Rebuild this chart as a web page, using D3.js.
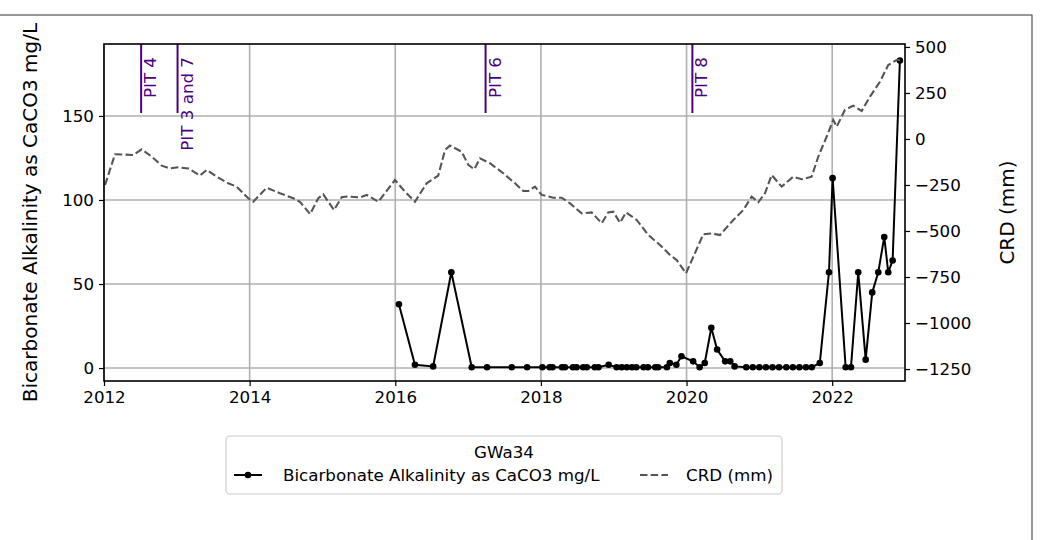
<!DOCTYPE html>
<html>
<head>
<meta charset="utf-8">
<script src="https://cdn.jsdelivr.net/npm/d3@7"></script>
<style>
  html, body { margin: 0; padding: 0; background: #fff; }
  svg { display: block; font-family: "DejaVu Sans", sans-serif; }
</style>
</head>
<body>
<svg id="chart" width="1049" height="540"></svg>
<script>
// ---- data (decimal years) ----
const alkDates = [2016.05, 2016.27, 2016.52, 2016.77, 2017.05, 2017.26, 2017.60, 2017.81,
  2018.02, 2018.12, 2018.16, 2018.29, 2018.33, 2018.44, 2018.49, 2018.58, 2018.63, 2018.74, 2018.79, 2018.93,
  2019.04, 2019.11, 2019.18, 2019.25, 2019.31, 2019.41, 2019.47, 2019.57, 2019.61, 2019.73, 2019.77, 2019.86, 2019.93,
  2020.09, 2020.18, 2020.25, 2020.34, 2020.42, 2020.53, 2020.60, 2020.66, 2020.82, 2020.91,
  2021.00, 2021.09, 2021.18, 2021.27, 2021.37, 2021.46, 2021.55, 2021.64, 2021.72, 2021.83, 2021.956,
  2022.006, 2022.185, 2022.258, 2022.358, 2022.46, 2022.55, 2022.633, 2022.715, 2022.77, 2022.83, 2022.93];
const alkValues = [38, 2, 1, 57, 0.5, 0.5, 0.5, 0.5,
  0.5, 0.5, 0.5, 0.5, 0.5, 0.5, 0.5, 0.5, 0.5, 0.5, 0.5, 2,
  0.5, 0.5, 0.5, 0.5, 0.5, 0.5, 0.5, 0.5, 0.5, 0.5, 3, 2, 7,
  4, 0.5, 3, 24, 11, 4, 4, 1, 0.5, 0.5,
  0.5, 0.5, 0.5, 0.5, 0.5, 0.5, 0.5, 0.5, 0.5, 3, 57,
  113, 0.5, 0.5, 57, 5, 45, 57, 78, 57, 64, 183];

const crdDates = [2012.014, 2012.151, 2012.40, 2012.518, 2012.655, 2012.792, 2012.906, 2013.02, 2013.158,
  2013.318, 2013.41, 2013.548, 2013.707, 2013.822, 2013.98, 2014.05, 2014.234, 2014.417, 2014.60, 2014.69,
  2014.83, 2014.943, 2015.011, 2015.158, 2015.264, 2015.333, 2015.516, 2015.608, 2015.767, 2015.996,
  2016.133, 2016.27, 2016.43, 2016.59, 2016.683, 2016.751, 2016.912, 2017.003, 2017.085, 2017.163,
  2017.30, 2017.483, 2017.644, 2017.758, 2017.827, 2017.919, 2018.011, 2018.17, 2018.285, 2018.40,
  2018.56, 2018.697, 2018.835, 2018.925, 2018.994, 2019.086, 2019.168, 2019.315, 2019.475, 2019.635,
  2019.773, 2019.865, 2019.992, 2020.23, 2020.345, 2020.459, 2020.642, 2020.78, 2020.894, 2020.985,
  2021.077, 2021.169, 2021.306, 2021.466, 2021.581, 2021.718, 2021.809, 2021.924, 2022.015, 2022.062,
  2022.176, 2022.29, 2022.405, 2022.519, 2022.656, 2022.77, 2022.886, 2022.93];
const crdValues = [-250, -83, -87, -56, -96, -145, -160, -154, -160,
  -199, -168, -205, -241, -259, -322, -341, -265, -295, -322, -341,
  -408, -322, -301, -386, -317, -313, -317, -304, -341, -223,
  -286, -341, -241, -199, -60, -36, -69, -141, -165, -105,
  -132, -186, -241, -283, -283, -259, -304, -319, -319, -350,
  -404, -399, -458, -399, -395, -455, -399, -440, -522, -576,
  -630, -658, -730, -518, -513, -522, -440, -386, -313, -344,
  -295, -196, -259, -205, -219, -205, -96, 12, 103, 67,
  158, 181, 152, 230, 311, 402, 429, 429];

const pitDates = [2012.51, 2013.01, 2017.24, 2020.08];
const pitLabels = ["PIT 4", "PIT 3 and 7", "PIT 6", "PIT 8"];

const xTicks = [2012, 2014, 2016, 2018, 2020, 2022];
const leftTicks = [0, 50, 100, 150];
const rightTicks = [-1250, -1000, -750, -500, -250, 0, 250, 500];

const legendTitle = "GWa34";
const alkName = "Bicarbonate Alkalinity as CaCO3 mg/L";
const crdName = "CRD (mm)";

// ---- layout ----
const svg = d3.select("#chart");
const L = 104, T = 44, W = 801, H = 337;
const FS = 16.7;

// figure frame
svg.append("rect").attr("x", -2).attr("y", 15).attr("width", 1034).attr("height", 530)
  .attr("fill", "none").attr("stroke", "#333").attr("stroke-width", 1);

const x = d3.scaleLinear().domain([2012, 2023]).range([L, L + W]);
const yL = d3.scaleLinear().domain([-7.7, 192.8]).range([T + H, T]);
const yR = d3.scaleLinear().domain([-1315, 516]).range([T + H, T]);

// grid
const g = svg.append("g");
g.selectAll(".vg").data(xTicks).join("line")
  .attr("x1", d => x(d)).attr("x2", d => x(d)).attr("y1", T).attr("y2", T + H)
  .attr("stroke", "#b0b0b0").attr("stroke-width", 1.6);
g.selectAll(".hg").data(leftTicks).join("line")
  .attr("x1", L).attr("x2", L + W).attr("y1", d => yL(d)).attr("y2", d => yL(d))
  .attr("stroke", "#b0b0b0").attr("stroke-width", 1.6);

// clip
svg.append("clipPath").attr("id", "clip").append("rect")
  .attr("x", L).attr("y", T).attr("width", W).attr("height", H);

// alkalinity
const alk = alkDates.map((d, i) => ({ d, v: alkValues[i] }));
const pl = svg.append("g").attr("clip-path", "url(#clip)");
pl.append("path").datum(alk)
  .attr("d", d3.line().x(p => x(p.d)).y(p => yL(p.v)))
  .attr("fill", "none").attr("stroke", "#000").attr("stroke-width", 2);
pl.selectAll(".dot").data(alk).join("circle")
  .attr("cx", p => x(p.d)).attr("cy", p => yL(p.v)).attr("r", 3.3).attr("fill", "#000");

// CRD
const crd = crdDates.map((d, i) => ({ d, v: crdValues[i] }));
pl.append("path").datum(crd)
  .attr("d", d3.line().x(p => x(p.d)).y(p => yR(p.v)))
  .attr("fill", "none").attr("stroke", "#555").attr("stroke-width", 2.1)
  .attr("stroke-dasharray", "7.5,3.2");

// PIT lines
const pits = pitDates.map((d, i) => ({ d, t: pitLabels[i] }));
svg.selectAll(".pit").data(pits).join("line")
  .attr("x1", p => x(p.d)).attr("x2", p => x(p.d)).attr("y1", T).attr("y2", 113)
  .attr("stroke", "#4b0082").attr("stroke-width", 2);
svg.selectAll(".pitt").data(pits).join("text")
  .attr("transform", p => `translate(${x(p.d) + 15},57) rotate(-90)`)
  .attr("text-anchor", "end").attr("font-size", FS).attr("fill", "#4b0082")
  .text(p => p.t);

// axes
const ax = svg.append("g").attr("transform", `translate(0,${T + H})`)
  .call(d3.axisBottom(x).tickValues(xTicks).tickFormat(d3.format("d")).tickSize(5).tickPadding(5));
const ayl = svg.append("g").attr("transform", `translate(${L},0)`)
  .call(d3.axisLeft(yL).tickValues(leftTicks).tickFormat(d3.format("d")).tickSize(5).tickPadding(5));
const ayr = svg.append("g").attr("transform", `translate(${L + W},0)`)
  .call(d3.axisRight(yR).tickValues(rightTicks).tickFormat(d3.format("d")).tickSize(5).tickPadding(5));
[ax, ayl, ayr].forEach(a => {
  a.select(".domain").remove();
  a.selectAll(".tick line").attr("stroke", "#000").attr("stroke-width", 1.2);
  a.selectAll(".tick text").attr("font-size", FS).attr("fill", "#000")
    .attr("font-family", "DejaVu Sans");
});

// spines
svg.append("rect").attr("x", L).attr("y", T).attr("width", W).attr("height", H)
  .attr("fill", "none").attr("stroke", "#000").attr("stroke-width", 1.6);

// axis labels
svg.append("text").attr("transform", `translate(37,${T + H / 2}) rotate(-90)`)
  .attr("text-anchor", "middle").attr("font-size", 20).text(alkName);
svg.append("text").attr("transform", `translate(1014,${T + H / 2}) rotate(-90)`)
  .attr("text-anchor", "middle").attr("font-size", 20).text(crdName);

// legend
const lg = svg.append("g");
lg.append("rect").attr("x", 226).attr("y", 436).attr("width", 556).attr("height", 58)
  .attr("rx", 4).attr("fill", "#fff").attr("stroke", "#ccc").attr("stroke-width", 1.2);
lg.append("text").attr("x", 504).attr("y", 458).attr("text-anchor", "middle")
  .attr("font-size", FS).text(legendTitle);
lg.append("line").attr("x1", 234).attr("x2", 262).attr("y1", 475).attr("y2", 475)
  .attr("stroke", "#000").attr("stroke-width", 2);
lg.append("circle").attr("cx", 248).attr("cy", 475).attr("r", 3.3).attr("fill", "#000");
lg.append("text").attr("x", 283).attr("y", 481).attr("font-size", FS).text(alkName);
lg.append("line").attr("x1", 640).attr("x2", 668).attr("y1", 475).attr("y2", 475)
  .attr("stroke", "#555").attr("stroke-width", 2.1).attr("stroke-dasharray", "7.5,3.2");
lg.append("text").attr("x", 686).attr("y", 481).attr("font-size", FS).text(crdName);
</script>
</body>
</html>
